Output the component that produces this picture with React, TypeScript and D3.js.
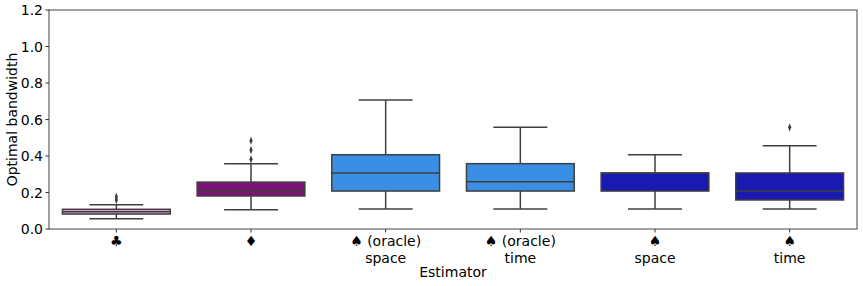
import React from "react";
import * as d3 from "d3";

const categories = ["♣", "♦", "♠ (oracle)\nspace", "♠ (oracle)\ntime", "♠\nspace", "♠\ntime"];
const colors = ["#d8a0d8", "#7b1275", "#3a8fe4", "#3a8fe4", "#1a1ab3", "#1a1ab3"];
const q1 = [0.082, 0.181, 0.208, 0.208, 0.208, 0.159];
const medians = [0.095, 0.208, 0.307, 0.259, 0.307, 0.208];
const q3 = [0.108, 0.257, 0.407, 0.358, 0.307, 0.307];
const whiskLo = [0.056, 0.106, 0.11, 0.11, 0.11, 0.11];
const whiskHi = [0.133, 0.358, 0.707, 0.557, 0.407, 0.456];
const outliers = [[0.159, 0.177], [0.382, 0.433, 0.484], [], [], [], [0.557]];
const yTicks = [0, 0.2, 0.4, 0.6, 0.8, 1.0, 1.2];

export default function App() {
  const W = 863, H = 286;
  const m = { left: 49, right: 6, top: 10, bottom: 57 };
  const x = d3.scaleBand<string>().domain(categories).range([m.left, W - m.right]).paddingInner(0.2).paddingOuter(0.1);
  const y = d3.scaleLinear().domain([0, 1.2]).range([H - m.bottom, m.top]);
  const line = "#3f3f3f";
  const font = "DejaVu Sans, sans-serif";
  const diamond = d3.symbol().type(d3.symbolDiamond).size(14)();

  return (
    <svg width={W} height={H} style={{ position: "absolute", left: 0, top: 0 }} fontFamily={font}>
      {categories.map((c, i) => {
        const x0 = x(c)!;
        const bw = x.bandwidth();
        const cx = x0 + bw / 2;
        return (
          <g key={c}>
            <line x1={cx} x2={cx} y1={y(whiskHi[i])} y2={y(q3[i])} stroke={line} strokeWidth={1.5} />
            <line x1={cx} x2={cx} y1={y(q1[i])} y2={y(whiskLo[i])} stroke={line} strokeWidth={1.5} />
            <line x1={cx - bw / 4} x2={cx + bw / 4} y1={y(whiskHi[i])} y2={y(whiskHi[i])} stroke={line} strokeWidth={1.5} />
            <line x1={cx - bw / 4} x2={cx + bw / 4} y1={y(whiskLo[i])} y2={y(whiskLo[i])} stroke={line} strokeWidth={1.5} />
            <rect x={x0} y={y(q3[i])} width={bw} height={y(q1[i]) - y(q3[i])} fill={colors[i]} stroke={line} strokeWidth={1.5} />
            <line x1={x0} x2={x0 + bw} y1={y(medians[i])} y2={y(medians[i])} stroke={line} strokeWidth={1.5} />
            {outliers[i].map((v, j) => (
              <path key={j} d={diamond!} transform={`translate(${cx},${y(v)}) scale(0.8,1.2)`} fill={line} />
            ))}
            <line x1={cx} x2={cx} y1={y(0)} y2={y(0) + 3.5} stroke="#333" strokeWidth={1} />
            {c.split("\n").map((t, k) => (
              <text key={k} x={cx} y={y(0) + 17 + k * 16.5} textAnchor="middle" fontSize={14} fill="#000">{t}</text>
            ))}
          </g>
        );
      })}
      {yTicks.map((t) => (
        <g key={t}>
          <line x1={m.left - 3.5} x2={m.left} y1={y(t)} y2={y(t)} stroke="#333" />
          <text x={m.left - 6} y={y(t)} dy="0.36em" textAnchor="end" fontSize={14} fill="#000">{t.toFixed(1)}</text>
        </g>
      ))}
      <rect x={m.left} y={m.top} width={W - m.left - m.right} height={H - m.top - m.bottom} fill="none" stroke="#444" strokeWidth={1} />
      <text x={(m.left + W - m.right) / 2} y={277} textAnchor="middle" fontSize={14} fill="#000">Estimator</text>
      <text transform={`translate(17,${(m.top + H - m.bottom) / 2}) rotate(-90)`} textAnchor="middle" fontSize={14} fill="#000">Optimal bandwidth</text>
    </svg>
  );
}
